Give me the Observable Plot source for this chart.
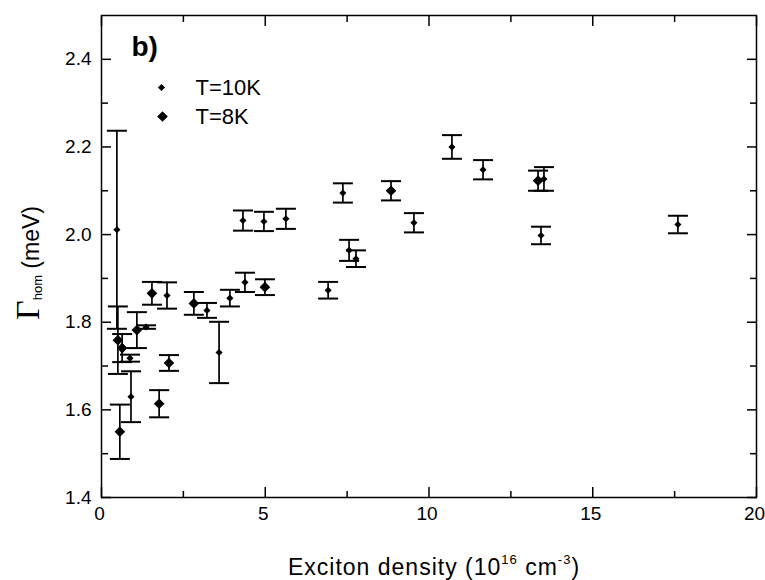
<!DOCTYPE html>
<html><head><meta charset="utf-8">
<script src="https://cdn.jsdelivr.net/npm/d3@7"></script>
<script src="https://cdn.jsdelivr.net/npm/@observablehq/plot@0.6"></script>
<style>body{margin:0;background:#fff}</style>
</head><body><div id="chart"></div>
<script>
// T = 10 K series
const density10K = [0.47, 0.87, 0.90, 1.36, 2.00, 3.22, 3.59, 3.92, 4.38, 4.32, 4.96, 5.63, 6.92, 7.37, 7.56, 7.77, 9.54, 10.70, 11.65, 13.51, 13.42, 17.60];
const gamma10K   = [2.011, 1.718, 1.630, 1.789, 1.861, 1.827, 1.731, 1.855, 1.891, 2.032, 2.030, 2.036, 1.873, 2.095, 1.964, 1.945, 2.027, 2.200, 2.148, 2.127, 1.998, 2.023];
const err10K     = [0.226, 0.008, 0.058, 0.004, 0.030, 0.017, 0.070, 0.019, 0.022, 0.023, 0.022, 0.023, 0.019, 0.022, 0.024, 0.019, 0.022, 0.027, 0.022, 0.027, 0.020, 0.020];
// T = 8 K series
const density8K = [0.56, 0.50, 0.63, 1.08, 1.54, 1.76, 2.06, 2.82, 4.99, 8.84, 13.33];
const gamma8K   = [1.550, 1.759, 1.741, 1.782, 1.866, 1.614, 1.707, 1.843, 1.880, 2.100, 2.123];
const err8K     = [0.062, 0.077, 0.032, 0.041, 0.026, 0.031, 0.018, 0.026, 0.018, 0.022, 0.023];

const xMajorTicks = [0, 5, 10, 15, 20];
const xMinorTicks = [2.5, 7.5, 12.5, 17.5];
const yMajorTicks = [1.4, 1.6, 1.8, 2.0, 2.2, 2.4];
const yMinorTicks = [1.5, 1.7, 1.9, 2.1, 2.3];
const legendLabels = ["T=10K", "T=8K"];
const panelLabel = "b)";

const rows = (xs, ys, es, series) => xs.map((x, i) => ({x, y: ys[i], e: es[i], series}));
const data10 = rows(density10K, gamma10K, err10K, legendLabels[0]);
const data8 = rows(density8K, gamma8K, err8K, legendLabels[1]);
const all = data10.concat(data8);

const capSymbol = {draw(ctx) { ctx.moveTo(-10, 0); ctx.lineTo(10, 0); }};
const FONT = "Liberation Sans, Arial, sans-serif";

const chart = Plot.plot({
  width: 765, height: 580,
  marginLeft: 101, marginRight: 9, marginTop: 15, marginBottom: 83,
  style: {fontFamily: FONT, color: "black", background: "white"},
  x: {domain: [0, 20]},
  y: {domain: [1.4, 2.5]},
  marks: [
    Plot.frame({stroke: "black", strokeWidth: 1.5}),
    // tick labels
    Plot.axisX({ticks: xMajorTicks, tickSize: 0, tickPadding: 9, dx: -2, fontSize: 19, label: null, tickFormat: d => String(d)}),
    Plot.axisY({ticks: yMajorTicks, tickSize: 0, tickPadding: 10, fontSize: 19, label: null, tickFormat: d3.format(".1f")}),
    // inward ticks
    Plot.axisX({ticks: xMajorTicks, anchor: "bottom", tickSize: 10, dy: -10, text: null, label: null, strokeWidth: 1.5}),
    Plot.axisX({ticks: xMinorTicks, anchor: "bottom", tickSize: 6, dy: -6, text: null, label: null, strokeWidth: 1.5}),
    Plot.axisX({ticks: xMajorTicks, anchor: "top", tickSize: 10, dy: 10, text: null, label: null, strokeWidth: 1.5}),
    Plot.axisX({ticks: xMinorTicks, anchor: "top", tickSize: 6, dy: 6, text: null, label: null, strokeWidth: 1.5}),
    Plot.axisY({ticks: yMajorTicks, anchor: "left", tickSize: 10, dx: 10, text: null, label: null, strokeWidth: 1.5}),
    Plot.axisY({ticks: yMinorTicks, anchor: "left", tickSize: 7, dx: 7, text: null, label: null, strokeWidth: 1.5}),
    Plot.axisY({ticks: yMajorTicks, anchor: "right", tickSize: 10, dx: -10, text: null, label: null, strokeWidth: 1.5}),
    Plot.axisY({ticks: yMinorTicks, anchor: "right", tickSize: 7, dx: -7, text: null, label: null, strokeWidth: 1.5}),
    // error bars
    Plot.ruleX(all, {x: "x", y1: d => d.y - d.e, y2: d => d.y + d.e, stroke: "black", strokeWidth: 1.7}),
    Plot.dot(all, {x: "x", y: d => d.y - d.e, symbol: capSymbol, stroke: "black", fill: "none", strokeWidth: 2}),
    Plot.dot(all, {x: "x", y: d => d.y + d.e, symbol: capSymbol, stroke: "black", fill: "none", strokeWidth: 2}),
    // points
    Plot.dot(data10, {x: "x", y: "y", symbol: "diamond2", r: 3.2, fill: "black"}),
    Plot.dot(data8, {x: "x", y: "y", symbol: "diamond2", r: 4.8, fill: "black"}),
    // legend + panel label
    Plot.dot([legendLabels[0]], {frameAnchor: "top-left", dx: 60, dy: 72, symbol: "diamond2", r: 3.2, fill: "black"}),
    Plot.dot([legendLabels[1]], {frameAnchor: "top-left", dx: 61, dy: 101, symbol: "diamond2", r: 4.8, fill: "black"}),
    Plot.text([legendLabels[0]], {text: d => d, frameAnchor: "top-left", dx: 94, dy: 72, textAnchor: "start", lineAnchor: "middle", fontSize: 22}),
    Plot.text([legendLabels[1]], {text: d => d, frameAnchor: "top-left", dx: 94, dy: 101, textAnchor: "start", lineAnchor: "middle", fontSize: 22}),
    Plot.text([panelLabel], {text: d => d, frameAnchor: "top-left", dx: 30, dy: 32, textAnchor: "start", lineAnchor: "middle", fontSize: 28, fontWeight: "bold"})
  ]
});

const svg = d3.select(chart);
// x axis title with superscripts
const xt = svg.append("text")
  .attr("x", 434).attr("y", 575)
  .attr("text-anchor", "middle")
  .attr("font-family", FONT).attr("font-size", 23).attr("letter-spacing", 1).attr("fill", "black");
xt.append("tspan").text("Exciton density (10");
xt.append("tspan").attr("dy", -11).attr("font-size", 13).text("16");
xt.append("tspan").attr("dy", 11).text(" cm");
xt.append("tspan").attr("dy", -11).attr("font-size", 13).text("-3");
xt.append("tspan").attr("dy", 11).text(")");

// y axis title with Greek letter and subscript
const yt = svg.append("text")
  .attr("transform", "translate(39,263) rotate(-90)")
  .attr("text-anchor", "middle")
  .attr("font-family", FONT).attr("font-size", 23).attr("fill", "black");
yt.append("tspan").attr("font-family", "Liberation Serif, Times New Roman, serif").attr("font-size", 34).text("Γ");
yt.append("tspan").attr("font-size", 13).attr("dy", 3).text("hom");
yt.append("tspan").attr("dy", -3).text(" (meV)");

document.getElementById("chart").appendChild(chart);
</script>
</body></html>
